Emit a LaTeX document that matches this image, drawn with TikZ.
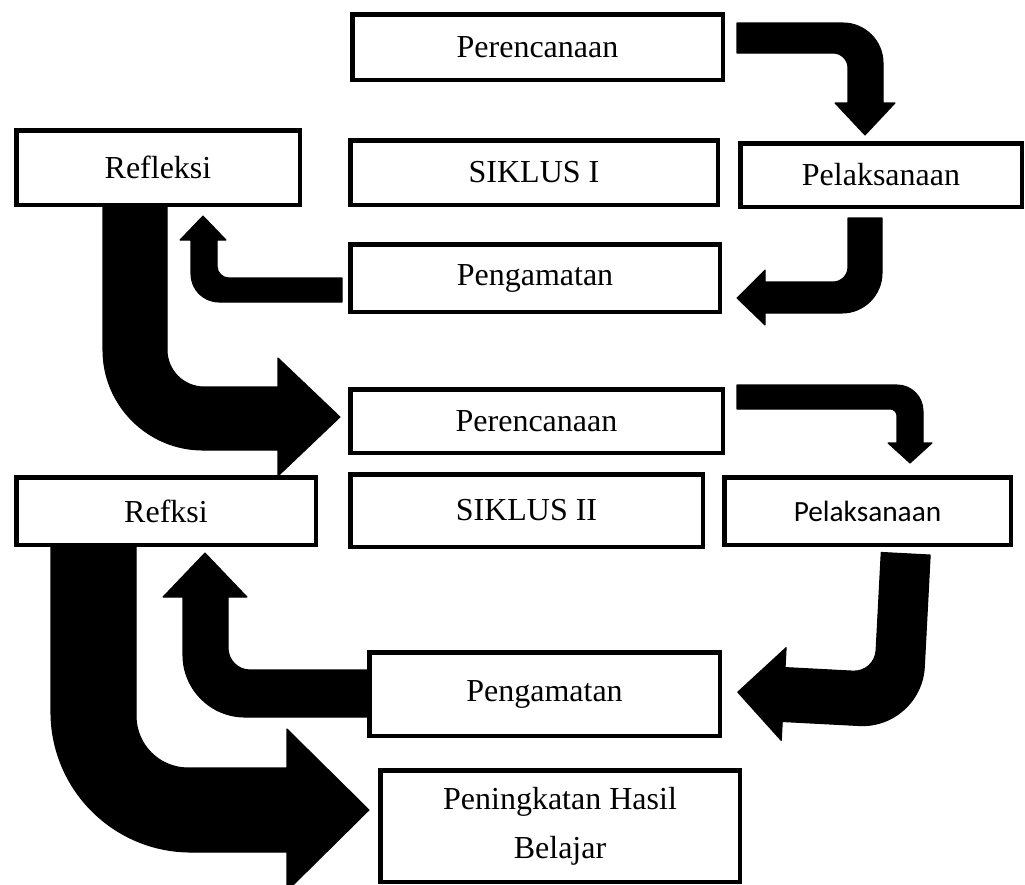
\documentclass[tikz,border=0pt]{standalone}
\usepackage{fontspec}
\setmainfont{Liberation Serif}
\newfontfamily\calib{Carlito}
\newcommand\bxnode[6]{\node[box, minimum width=#4*0.75pt, minimum height=#5*0.75pt] (#1) at (#2,#3) {#6};}
\begin{document}
\begin{tikzpicture}[x=0.75pt,y=-0.75pt,
  box/.style={draw=black, line width=3.375pt, fill=white, inner sep=0pt, align=center,
    font=\fontsize{24}{37}\selectfont},
  arr/.style={fill=black, draw=black, line width=0.8pt, line join=round}]
\useasboundingbox (0,0) rectangle (1025,885);
\clip (0,0) rectangle (1025,885);
% arrows
\path[arr] (737,23) -- (843,23) .. controls (865,23) and (883,41) .. (883,63) -- (883,103) -- (895,103) -- (865,135) -- (835,103) -- (848,103) -- (848,68) .. controls (848,59.7) and (841.3,53) .. (833,53) -- (737,53) -- cycle;
\path[arr] (848,218) -- (882,218) -- (882,273) .. controls (882,295) and (864,313) .. (842,313) -- (765,313) -- (765,325) -- (737,298) -- (765,270) -- (765,282) -- (833,282) .. controls (841.3,282) and (848,275.3) .. (848,267) -- cycle;
\path[arr] (342,278) -- (229,278) .. controls (222.4,278) and (217,272.6) .. (217,266) -- (217,240) -- (226,240) -- (203,216) -- (180,240) -- (191,240) -- (191,274) .. controls (191,289.5) and (203.5,302) .. (219,302) -- (342,302) -- cycle;
\path[arr] (103,207) -- (167,207) -- (167,350) .. controls (167,370.4) and (183.6,387) .. (204,387) -- (278,387) -- (278,358) -- (340,417) -- (278,476) -- (278,450) -- (203,450) .. controls (147.8,450) and (103,405.2) .. (103,350) -- cycle;
\path[arr] (737,385) -- (897,385) .. controls (911.4,385) and (923,396.6) .. (923,411) -- (923,443) -- (932,443) -- (910,463) -- (888,443) -- (897,443) -- (897,416) .. controls (897,412.1) and (893.9,409) .. (890,409) -- (737,409) -- cycle;
\path[arr, rotate around={-3:(850,690)}] (874,551) -- (923,551) -- (923,663) .. controls (923,697.2) and (895.2,725) .. (861,725) -- (784,725) -- (784,744) -- (738,698) -- (784,651) -- (784,671) -- (852,671) .. controls (864.1,671) and (874,661.1) .. (874,649) -- cycle;
\path[arr] (367,670) -- (250,670) .. controls (237.9,670) and (228,660.1) .. (228,648) -- (228,597) -- (247,597) -- (205,553) -- (163,597) -- (183,597) -- (183,655) .. controls (183,689.2) and (210.8,717) .. (245,717) -- (367,717) -- cycle;
\path[arr] (51,547) -- (136,547) -- (136,716) .. controls (136,744.7) and (159.3,768) .. (188,768) -- (287,768) -- (287,729) -- (369,810) -- (287,891) -- (287,852) -- (191,852) .. controls (113.7,852) and (51,789.3) .. (51,712) -- cycle;
% boxes
\bxnode{per1}{537.5}{47}{370.5}{65.5}{Perencanaan}
\bxnode{ref1}{158}{167.5}{283.5}{74.5}{Refleksi}
\bxnode{sik1}{534}{172.5}{367.5}{64.5}{SIKLUS I}
\bxnode{pel1}{881}{175}{281.5}{63.5}{Pelaksanaan}
\bxnode{pen1}{535}{278}{369.5}{67.5}{Pengamatan}
\bxnode{per2}{536.5}{421}{372.5}{63.5}{Perencanaan}
\bxnode{ref2}{166}{511}{299.5}{67.5}{Refksi}
\bxnode{sik2}{526.5}{510.5}{352.5}{72.5}{SIKLUS II}
\node[box, minimum width=286.5*0.75pt, minimum height=67.5*0.75pt, font=\calib\fontsize{22}{26}\selectfont] (pel2) at (867.5,511) {Pelaksanaan};
\bxnode{pen2}{544.5}{694}{350.5}{83.5}{Pengamatan}
\bxnode{hasil}{560}{826}{359.5}{111.5}{Peningkatan Hasil\\Belajar}
\end{tikzpicture}
\end{document}
